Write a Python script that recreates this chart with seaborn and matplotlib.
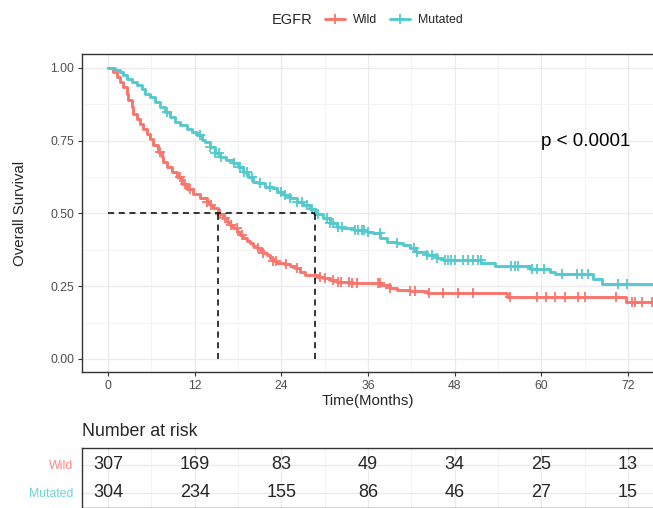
import numpy as np
import pandas as pd
import matplotlib
matplotlib.use("Agg")
import matplotlib.pyplot as plt
from matplotlib.lines import Line2D
import seaborn as sns

# Kaplan-Meier step points (time in months, survival after the step)
wild_time = [0, 0.74, 1.2, 1.66, 2.12, 2.58, 2.81, 3.28, 3.51, 3.97,
             4.43, 4.89, 5.35, 5.82, 6.28, 6.97, 7.43, 7.66, 8.12, 8.82,
             9.51, 10.2, 10.9, 11.8, 12.7, 13.67, 14.12, 14.58, 15.2, 15.97,
             16.43, 16.9, 17.35, 17.82, 18.28, 18.74, 19.2, 19.66, 20.1, 20.6,
             21.05, 21.5, 21.97, 22.43, 22.9, 23.36, 24.3, 25.2, 25.9, 26.6,
             27.3, 28.9, 29.8, 30.7, 31.7, 33.5, 37.7, 39.0, 40.0, 41.8,
             44.2, 55.2, 71.7, 75.5]
wild_surv = [1.0, .986, .969, .952, .935, .912, .889, .866, .843, .826,
             .809, .791, .774, .755, .734, .711, .694, .677, .660, .643,
             .625, .602, .585, .568, .552, .541, .529, .518, .497, .483,
             .472, .460, .449, .437, .426, .415, .405, .398, .388, .380,
             .375, .365, .357, .346, .338, .329, .325, .320, .312, .300,
             .289, .283, .277, .271, .266, .260, .254, .243, .237, .234,
             .226, .213, .196, .196]

mut_time = [0, 0.97, 1.66, 2.12, 2.58, 3.28, 3.97, 4.66, 5.12, 5.82,
            6.5, 7.2, 7.9, 8.6, 9.28, 9.97, 10.9, 11.6, 12.3, 13.0,
            13.43, 14.1, 14.8, 15.5, 16.4, 17.35, 18.0, 18.7, 19.4, 20.1,
            20.8, 21.7, 22.7, 23.4, 24.3, 25.2, 26.1, 27.0, 28.0, 28.6,
            29.8, 30.7, 31.7, 32.6, 34.0, 35.8, 36.7, 37.7, 38.6, 40.0,
            40.9, 41.8, 42.7, 44.1, 45.5, 46.4, 51.7, 53.6, 58.4, 61.2,
            61.9, 67.2, 68.4, 75.5]
mut_surv = [1.0, .992, .986, .975, .963, .952, .940, .929, .912, .900,
            .883, .866, .849, .832, .814, .803, .791, .780, .769, .752,
            .745, .730, .707, .695, .684, .672, .661, .644, .626, .609,
            .604, .592, .587, .575, .564, .552, .541, .529, .516, .499,
            .483, .466, .455, .449, .443, .437, .432, .415, .403, .398,
            .392, .380, .369, .357, .346, .340, .328, .321, .309, .300,
            .291, .274, .258, .258]

# censoring times
wild_censor = [7.2, 10.0, 10.7, 11.3, 13.7, 14.3, 15.5, 16.2, 17.0, 17.8,
               18.6, 20.8, 21.5, 22.9, 23.3, 24.6, 26.1, 28.7, 29.3, 30.0,
               31.2, 31.9, 32.3, 33.3, 33.8, 34.5, 37.4, 37.6, 39.0, 41.8,
               42.5, 44.4, 46.4, 48.5, 50.6, 55.7, 59.4, 60.7, 61.9, 63.3,
               65.1, 66.0, 70.4, 72.5, 73.0, 74.0, 75.3]
mut_censor = [8.2, 12.7, 14.1, 14.8, 15.3, 15.7, 17.4, 18.3, 18.8, 19.2,
              19.9, 21.0, 22.4, 24.0, 24.5, 25.2, 26.1, 26.8, 27.5, 28.2,
              29.1, 30.3, 30.7, 31.2, 31.9, 32.4, 34.2, 34.6, 35.1, 35.5,
              36.0, 37.6, 40.0, 42.3, 42.8, 44.1, 44.8, 45.5, 46.6, 47.1,
              47.5, 48.0, 49.1, 49.8, 50.5, 51.2, 51.6, 55.8, 56.3, 56.7,
              58.7, 59.4, 60.3, 62.8, 64.9, 65.6, 66.5, 70.6, 71.8]

median_times = [15.2, 28.6]

groups = ["Wild", "Mutated"]
colors = {"Wild": "#F8766D", "Mutated": "#55C9CD"}

risk_times = [0, 12, 24, 36, 48, 60, 72]
wild_risk = [307, 169, 83, 49, 34, 25, 13]
mut_risk = [304, 234, 155, 86, 46, 27, 15]

# ---------------------------------------------------------------------------
sns.set_style("white")
FONT = ["Liberation Sans", "DejaVu Sans"]
plt.rcParams["font.family"] = FONT

W, H = 653, 508
fig = plt.figure(figsize=(W / 100, H / 100), dpi=100)

def fig_rect(left, top, right, bottom):
    return [left / W, 1 - bottom / H, (right - left) / W, (bottom - top) / H]

XLIM = (-3.6, 75.6)
ax = fig.add_axes(fig_rect(82, 54, 654, 372))

curves = pd.concat([
    pd.DataFrame({"time": wild_time, "surv": wild_surv, "EGFR": "Wild"}),
    pd.DataFrame({"time": mut_time, "surv": mut_surv, "EGFR": "Mutated"}),
])

def surv_at(times, survs, t):
    idx = np.searchsorted(np.asarray(times), np.asarray(t), side="right") - 1
    return np.asarray(survs)[idx]

censor = pd.concat([
    pd.DataFrame({"time": wild_censor,
                  "surv": surv_at(wild_time, wild_surv, wild_censor),
                  "EGFR": "Wild"}),
    pd.DataFrame({"time": mut_censor,
                  "surv": surv_at(mut_time, mut_surv, mut_censor),
                  "EGFR": "Mutated"}),
])

for g in groups:
    sub = curves[curves["EGFR"] == g]
    sns.lineplot(data=sub, x="time", y="surv", ax=ax, color=colors[g],
                 estimator=None, sort=False, drawstyle="steps-post",
                 linewidth=2.1, legend=False, zorder=3)
    csub = censor[censor["EGFR"] == g]
    sns.scatterplot(data=csub, x="time", y="surv", ax=ax, color=colors[g],
                    marker="+", s=45, linewidth=1.3, legend=False, zorder=4)

# median survival reference lines
m_max = max(median_times)
ax.plot([0, m_max], [0.5, 0.5], color="black", lw=1.1, ls=(0, (4, 3)), zorder=5)
for m in median_times:
    ax.plot([m, m], [0, 0.5], color="black", lw=1.1, ls=(0, (4, 3)), zorder=5)

ax.text(66.2, 0.746, "p < 0.0001", fontsize=13.5, ha="center", va="center",
        color="black")

ax.set_xlim(*XLIM)
ax.set_ylim(-0.045, 1.048)
ax.set_xticks(risk_times)
ax.set_xticks(np.arange(6, 76, 12), minor=True)
ax.set_yticks([0, 0.25, 0.5, 0.75, 1.0])
ax.set_yticks([0.125, 0.375, 0.625, 0.875], minor=True)
ax.set_yticklabels(["0.00", "0.25", "0.50", "0.75", "1.00"])
ax.grid(True, which="major", color="#EBEBEB", lw=1.0, zorder=0)
ax.grid(True, which="minor", color="#F3F3F3", lw=0.7, zorder=0)
ax.set_axisbelow(True)
ax.tick_params(axis="both", which="major", length=3, width=0.8,
               color="#333333", labelsize=8.7, labelcolor="#4D4D4D", pad=2.5,
               left=True, bottom=True)
ax.tick_params(axis="both", which="minor", length=0)
for sp in ax.spines.values():
    sp.set_color("#333333")
    sp.set_linewidth(1.0)
ax.set_xlabel("Time(Months)", fontsize=10.8, labelpad=2)
ax.set_ylabel("Overall Survival", fontsize=10.8, labelpad=17)

# legend along the top
fig.text(272 / W, 1 - 20 / H, "EGFR", fontsize=10.5, ha="left", va="center")
handles = [Line2D([], [], color=colors[g], lw=2.1, marker="+", markersize=7,
                  markeredgewidth=1.3) for g in groups]
fig.legend(handles, groups, loc="center left",
           bbox_to_anchor=(325 / W, 1 - 20 / H), ncol=2, frameon=False,
           fontsize=8.9, handlelength=1.6, handletextpad=0.7,
           columnspacing=1.0, borderpad=0, borderaxespad=0)

# number-at-risk table
fig.text(82 / W, 1 - 432 / H, "Number at risk", fontsize=12.8,
         ha="left", va="center")
tab = fig.add_axes(fig_rect(82, 448, 654, 508))
tab.set_xlim(*XLIM)
tab.set_ylim(-0.536, 1.607)
for t, wv, mv in zip(risk_times, wild_risk, mut_risk):
    tab.text(t, 1, str(wv), fontsize=13, ha="center", va="center")
    tab.text(t, 0, str(mv), fontsize=13, ha="center", va="center")
tab.set_xticks(risk_times)
tab.set_xticks(np.arange(6, 76, 12), minor=True)
tab.set_yticks([1, 0])
tab.set_yticklabels(groups)
for lbl, g in zip(tab.get_yticklabels(), groups):
    lbl.set_color(colors[g])
    lbl.set_alpha(0.85)
tab.tick_params(axis="y", length=0, labelsize=8.8, pad=6)
tab.tick_params(axis="x", which="both", length=0, labelbottom=False)
tab.grid(True, which="major", color="#EBEBEB", lw=1.0)
tab.grid(True, which="minor", axis="x", color="#F3F3F3", lw=0.7)
for name, sp in tab.spines.items():
    sp.set_color("#333333")
    sp.set_linewidth(1.0)

fig.savefig("out.png", dpi=100)
